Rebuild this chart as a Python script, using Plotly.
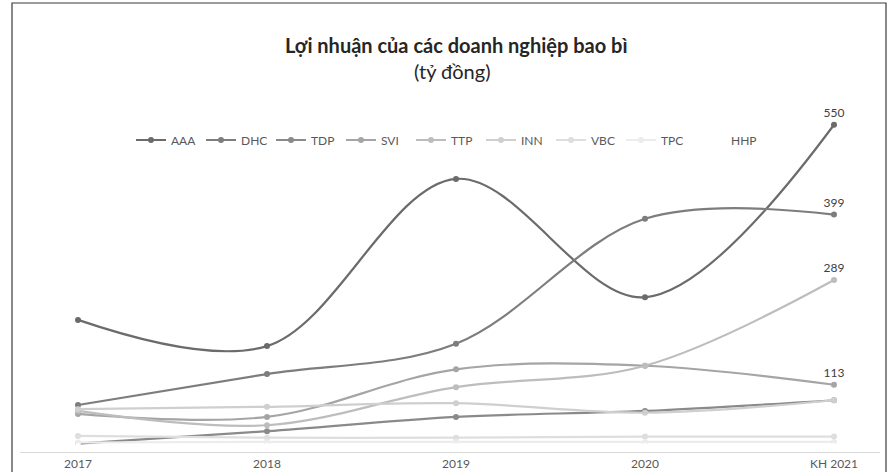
import plotly.graph_objects as go

years = ["2017", "2018", "2019", "2020", "KH 2021"]
AAA = [222, 178, 459, 260, 550]
DHC = [79, 131, 182, 392, 399]
TDP = [14, 35, 59, 69, 87]
SVI = [64, 59, 139, 145, 113]
TTP = [69, 45, 109, 145, 289]
INN = [72, 76, 82, 66, 87]
VBC = [27, 24, 24, 26, 26]
TPC = [16, 17, 17, 17, 17]
HHP = [10, 10, 10, 10, 10]

series = [
    ("AAA", AAA, "#6b6b6b", True),
    ("DHC", DHC, "#7d7d7d", True),
    ("TDP", TDP, "#8a8a8a", False),
    ("SVI", SVI, "#a5a5a5", True),
    ("TTP", TTP, "#bdbdbd", True),
    ("INN", INN, "#cfcfcf", False),
    ("VBC", VBC, "#dedede", False),
    ("TPC", TPC, "#ececec", False),
    ("HHP", HHP, "#ffffff", False),
]

xs = list(range(len(years)))
fig = go.Figure()
for name, vals, color, lab in series:
    texts = [""] * (len(vals) - 1) + [str(vals[-1])] if lab else None
    fig.add_trace(go.Scatter(
        x=xs, y=vals, name=name,
        mode="lines+markers+text" if lab else "lines+markers",
        text=texts, textposition="top center",
        textfont=dict(size=12, color="#404040"),
        line=dict(color=color, width=2.2, shape="spline", smoothing=1.0),
        marker=dict(color=color, size=6),
    ))

W, H = 888, 472
L, R, T = 20, 8, 95
B = H - 452
pw = W - L - R
ph = H - T - B
ux = 189.0
xlo = -(78 - L) / ux
xhi = 4 + (L + pw - 834) / ux

def px(x):
    return (x - L) / pw

def py(y):
    return (H - B - y) / ph

fig.update_layout(
    template="none",
    width=W, height=H,
    margin=dict(l=L, r=R, t=T, b=B, autoexpand=False),
    paper_bgcolor="white", plot_bgcolor="white",
    font=dict(family="Lato, sans-serif", color="#595959"),
    showlegend=True,
    legend=dict(orientation="h", x=px(446), xanchor="center", y=py(140), yanchor="middle",
                font=dict(size=12, color="#595959"), itemwidth=30,
                entrywidth=25, entrywidthmode="pixels",
                bgcolor="rgba(0,0,0,0)"),
    xaxis=dict(range=[xlo, xhi], tickvals=xs, ticktext=years, showgrid=False,
               zeroline=False, showline=True, linecolor="#d9d9d9", linewidth=1,
               automargin=False,
               ticks="", ticklabelstandoff=1, tickfont=dict(size=12, color="#595959")),
    yaxis=dict(range=[0, 600], visible=False, automargin=False),
    annotations=[
        dict(text="<b>Lợi nhuận của các doanh nghiệp bao bì</b>", x=px(456), y=py(45),
             xref="paper", yref="paper", showarrow=False, xanchor="center", yanchor="middle",
             font=dict(size=20, color="#262626")),
        dict(text="(tỷ đồng)", x=px(453), y=py(71), xref="paper", yref="paper",
             showarrow=False, xanchor="center", yanchor="middle",
             font=dict(size=20, color="#262626")),
    ],
    shapes=[
        dict(type="rect", xref="paper", yref="paper", x0=px(12), x1=px(886), y0=py(490), y1=py(3),
             line=dict(color="#3a3a3a", width=1.2), fillcolor="rgba(0,0,0,0)", layer="below"),
    ],
)

fig.write_html("out.html", config={"displayModeBar": False},
               post_script="document.body.style.margin='0';")
